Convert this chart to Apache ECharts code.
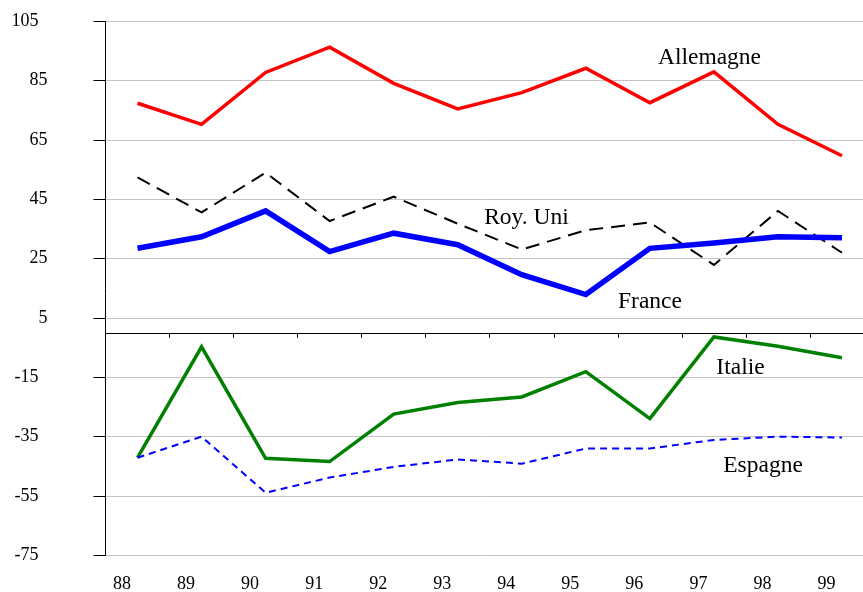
<!DOCTYPE html>
<html>
<head>
<meta charset="utf-8">
<script src="https://cdn.jsdelivr.net/npm/echarts@6/dist/echarts.min.js"></script>
<style>
  html, body { margin: 0; padding: 0; background: #fff; }
  #chart { width: 863px; height: 592px; }
</style>
</head>
<body>
<div id="chart"></div>
<script>
// years on the x axis
var years = ['88', '89', '90', '91', '92', '93', '94', '95', '96', '97', '98', '99'];
// y tick values (min -75 is not a multiple of 20, so ticks are given explicitly)
var yTicks = [-75, -55, -35, -15, 5, 25, 45, 65, 85, 105];

var allemagne = [77.4, 70.3, 87.8, 96.3, 84.1, 75.5, 81.0, 89.2, 77.6, 88.0, 70.3, 59.7];
var royUni    = [52.4, 40.6, 54.0, 37.7, 45.9, 36.8, 28.1, 34.6, 37.2, 22.9, 41.1, 27.0];
var france    = [28.5, 32.4, 41.1, 27.4, 33.6, 29.7, 19.6, 12.9, 28.5, 30.3, 32.4, 32.1];
var italie    = [-42.1, -4.7, -42.3, -43.4, -27.4, -23.5, -21.6, -13.1, -28.9, -1.4, -4.5, -8.4];
var espagne   = [-42.1, -35.0, -53.9, -48.8, -45.2, -42.7, -44.1, -39.0, -39.0, -36.1, -35.0, -35.3];

var serif = 'Liberation Serif';

function lineSeries(name, data, color, width, dash){
  return {
    name: name,
    type: 'line',
    data: data,
    symbol: 'none',
    silent: true,
    lineStyle: { color: color, width: width, type: dash || 'solid', cap: 'butt', join: 'miter' }
  };
}

function note(text, x, y){
  return {
    type: 'text', x: x, y: y, silent: true,
    style: { text: text, font: '23.5px "Liberation Serif"', fill: '#000', align: 'center', verticalAlign: 'middle' }
  };
}

var chart = echarts.init(document.getElementById('chart'));
chart.setOption({
  animation: false,
  textStyle: { fontFamily: serif, color: '#000' },
  // the plot runs a little past the right edge of the picture
  grid: { left: 105.5, width: 768.5, top: 21.4, bottom: 36.7, containLabel: false, outerBoundsMode: 'none' },
  xAxis: [
    {
      type: 'category', data: years, boundaryGap: true, position: 'bottom',
      axisLine: { onZero: true, lineStyle: { color: '#000', width: 1 } },
      axisTick: { show: true, length: 5, lineStyle: { color: '#000' } },
      axisLabel: { show: false },
      splitLine: { show: false }
    },
    {
      type: 'category', data: years, boundaryGap: true, position: 'bottom',
      axisLine: { show: false, onZero: false },
      axisTick: { show: false },
      axisLabel: { margin: 20, color: '#000', fontFamily: serif, fontSize: 18, padding: [0, 31, 0, 0] },
      splitLine: { show: false }
    }
  ],
  yAxis: {
    type: 'value', min: -75, max: 105,
    axisLine: { show: true, onZero: false, lineStyle: { color: '#000', width: 1 } },
    axisTick: { show: true, length: 12, customValues: yTicks, lineStyle: { color: '#000' } },
    axisLabel: {
      customValues: yTicks, margin: 58, color: '#000', fontFamily: serif, fontSize: 18,
      formatter: function(v){ var s = String(v); return s.length > 2 ? '{w|' + s + '}' : '{n|' + s + '}'; },
      rich: {
        n: { fontFamily: serif, fontSize: 18, color: '#000' },
        w: { fontFamily: serif, fontSize: 18, color: '#000', padding: [0, 9, 0, 0] }
      }
    },
    splitLine: { show: true, lineStyle: { color: '#c4c4c4', width: 1 } }
  },
  series: [
    lineSeries('Allemagne', allemagne, '#ff0000', 3.5),
    lineSeries('Roy. Uni', royUni, '#000000', 2, [14, 8]),
    lineSeries('France', france, '#0000ff', 5.5),
    lineSeries('Italie', italie, '#008000', 3.5),
    lineSeries('Espagne', espagne, '#0000ff', 2, [7, 5])
  ],
  graphic: [
    note('Allemagne', 709.5, 58),
    note('Roy. Uni', 526.5, 218),
    note('France', 650, 302),
    note('Italie', 740.5, 367.5),
    note('Espagne', 763, 465.5)
  ]
});
window.addEventListener('resize', function(){ chart.resize(); });
</script>
</body>
</html>
